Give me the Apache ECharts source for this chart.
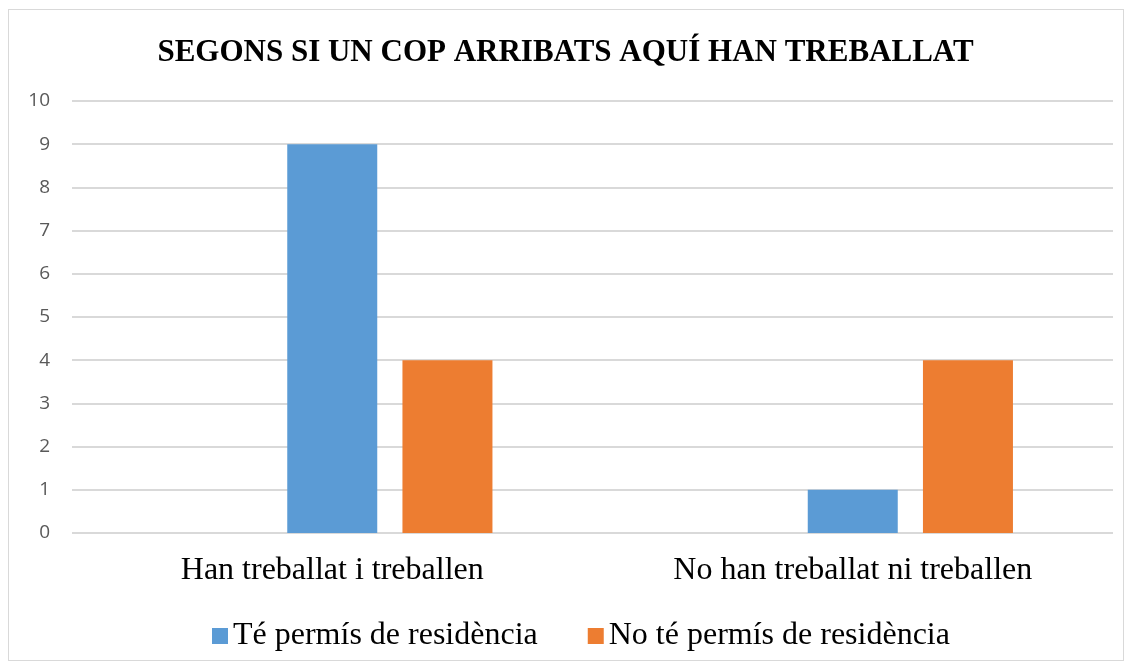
<!DOCTYPE html>
<html>
<head>
<meta charset="utf-8">
<script src="https://cdn.jsdelivr.net/npm/echarts@6/dist/echarts.min.js"></script>
<style>
  html, body { margin: 0; padding: 0; background: #fff; }
  #frame { position: absolute; left: 8px; top: 9px; width: 1116px; height: 652px; border: 1px solid #d9d9d9; box-sizing: border-box; }
  #chart { position: absolute; left: 0; top: 0; width: 1131px; height: 664px; }
</style>
</head>
<body>
<div id="frame"></div>
<div id="chart"></div>
<script>
const categories = ['Han treballat i treballen', 'No han treballat ni treballen'];
const seriesNames = ['Té permís de residència', 'No té permís de residència'];
const emptySeries = [0, 0];
const ambPermis = [9, 1];
const sensePermis = [4, 4];
const yTicks = [0, 1, 2, 3, 4, 5, 6, 7, 8, 9, 10];

const myChart = echarts.init(document.getElementById('chart'));
const option = {
    animation: false,
    title: {
        text: 'SEGONS SI UN COP ARRIBATS AQUÍ HAN TREBALLAT',
        left: 'center',
        top: 32,
        textStyle: { fontFamily: 'Liberation Serif', fontWeight: 'bold', fontSize: 31, color: '#000' }
    },
    legend: {
        data: seriesNames,
        left: 207,
        top: 615,
        itemWidth: 16,
        itemHeight: 16,
        itemGap: 50,
        icon: 'rect',
        textStyle: { fontFamily: 'Liberation Serif', fontSize: 32, color: '#000' }
    },
    grid: { left: 72, right: 18, top: 101, bottom: 131 },
    xAxis: {
        type: 'category',
        data: categories,
        axisLine: { show: false },
        axisTick: { show: false },
        axisLabel: { fontFamily: 'Liberation Serif', fontSize: 32, color: '#000', margin: 22 }
    },
    yAxis: {
        type: 'value',
        min: yTicks[0],
        max: yTicks[yTicks.length - 1],
        interval: 1,
        axisLine: { show: false },
        axisTick: { show: false },
        axisLabel: { fontFamily: 'Open Sans', fontSize: 19, color: '#595959', margin: 22 },
        splitLine: { lineStyle: { color: '#d9d9d9', width: 2 } }
    },
    series: [
        { name: '', type: 'bar', data: emptySeries, barWidth: 90, barGap: '28%', itemStyle: { color: 'transparent' } },
        { name: seriesNames[0], type: 'bar', data: ambPermis, barWidth: 90, barGap: '28%', itemStyle: { color: '#5B9BD5' } },
        { name: seriesNames[1], type: 'bar', data: sensePermis, barWidth: 90, barGap: '28%', itemStyle: { color: '#ED7D31' } }
    ]
};
option && myChart.setOption(option);
</script>
</body>
</html>
